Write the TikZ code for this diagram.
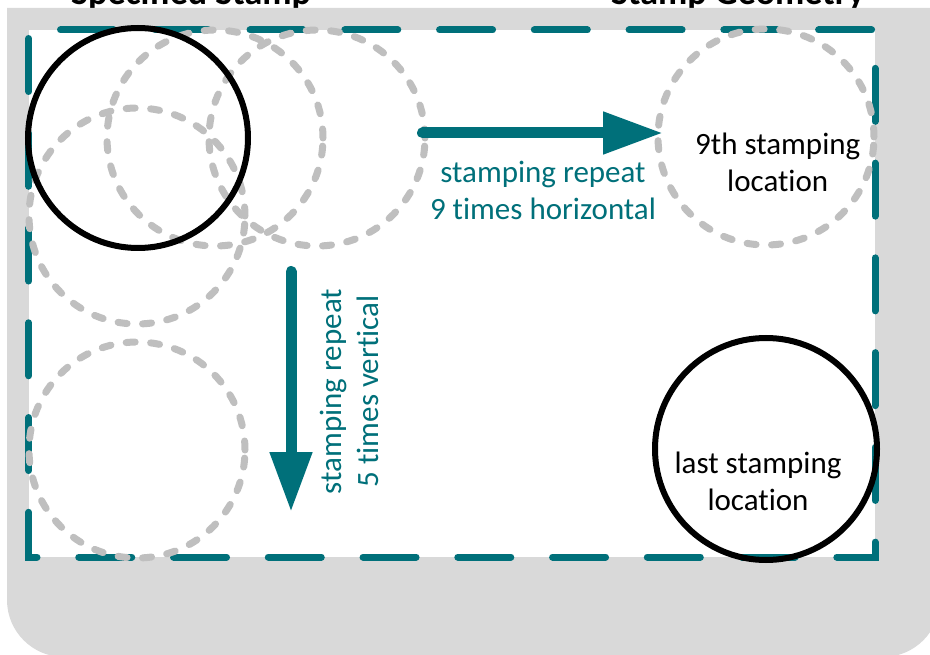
\documentclass[tikz,border=0pt]{standalone}
\usepackage{fontspec}
\setmainfont{Carlito}[Ligatures=NoCommon]
\usetikzlibrary{arrows.meta}
\definecolor{stampteal}{RGB}{0,112,122}
\definecolor{ghostgray}{RGB}{191,191,191}
\definecolor{backgray}{RGB}{217,217,217}

\begin{document}
\begin{tikzpicture}[x=1pt,y=-1pt,every text node part/.style={align=center}]
		\tikzstyle{ghost}=[circle,draw=ghostgray,line width=7pt,line cap=round,
							dash pattern=on 9pt off 15.5pt,minimum size=216pt,inner sep=0pt]
		\tikzstyle{stamp}=[circle,draw=black,line width=6pt,minimum size=220pt,inner sep=0pt]
		\tikzstyle{loctext}=[font=\fontsize{31}{37}\selectfont,inner sep=0pt]
		\tikzstyle{reptext}=[loctext,text=stampteal]
		\tikzstyle{reparrow}=[draw=stampteal,line width=11pt,line cap=round,
							-{Triangle[length=60pt,width=40pt]}]

		\useasboundingbox (0,0) rectangle (930,655);
		\clip (0,0) rectangle (930,655);

		% titles
		\node[anchor=base,font=\bfseries\fontsize{36}{43}\selectfont] (title1) at (191,4.5) {Specified Stamp};
		\node[anchor=base,font=\bfseries\fontsize{36}{43}\selectfont] (title2) at (738,4.5) {Stamp Geometry};

		% background
		\fill[backgray] (7,8) -- (7,600) arc[start angle=180,end angle=90,radius=57]
			-- (883,657) arc[start angle=90,end angle=0,radius=57] -- (940,8) -- cycle;
		\fill[white] (28.7,30) rectangle (875,557);
		\draw[stampteal,line width=7pt,line cap=round,dash pattern=on 53pt off 41.76pt,dash phase=86.26pt]
			(28.7,30) -- (28.7,557) -- (875,557) -- (875,30) -- cycle;

		% ghost stamps
		\foreach \name/\x/\y in {g12/215/138, g13/317/138, g21/137/216, g51/137/450, g19/766/137}
			\node[ghost] (\name) at (\x,\y) {};

		% stamps
		\node[stamp] (first) at (138,138) {};
		\node[stamp,minimum size=222pt] (last) at (766,449) {};

		% arrows
		\coordinate (hstart) at (422.5,133);
		\coordinate (hend) at (663,133);
		\coordinate (vstart) at (291,271.5);
		\coordinate (vend) at (291,512);
		\draw[reparrow] (hstart) -- (hend);
		\draw[reparrow] (vstart) -- (vend);

		% texts
		\node[reptext] (htext) at (543,190) {stamping repeat\\9 times horizontal};
		\node[reptext,rotate=90] (vtext) at (349,391.5) {stamping repeat\\5 times vertical};
		\node[loctext,anchor=west,align=left] (ninth) at (695,162.5) {9th stamping\\location};
		\node[loctext] (lastloc) at (758,481) {last stamping\\location};

	\end{tikzpicture}
\end{document}
